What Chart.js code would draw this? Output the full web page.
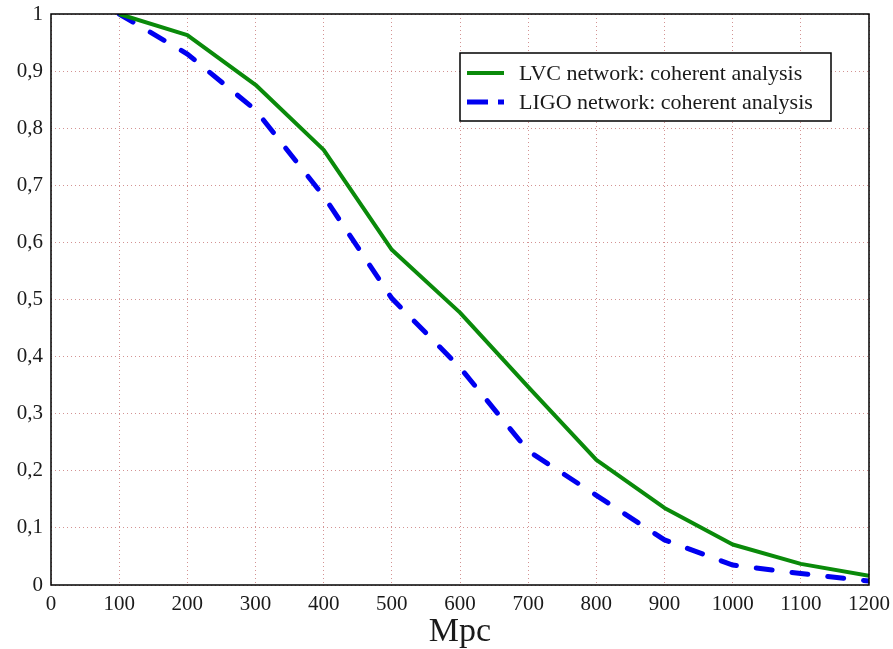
<!DOCTYPE html>
<html>
<head>
<meta charset="utf-8">
<script src="https://cdn.jsdelivr.net/npm/chart.js@4/dist/chart.umd.min.js"></script>
<style>
  html, body { margin: 0; padding: 0; background: #fff; }
  #wrap { width: 893px; height: 649px; position: relative; }
</style>
</head>
<body>
<div id="wrap"><canvas id="c"></canvas></div>
<script>
// Distance in Mpc
const distances = [100, 200, 300, 400, 500, 600, 700, 800, 900, 1000, 1100, 1200];
// Detection fraction, LVC (LIGO + Virgo) coherent analysis
const lvcFraction = [1.0, 0.963, 0.876, 0.762, 0.587, 0.477, 0.347, 0.219, 0.135, 0.071, 0.037, 0.016];
// Detection fraction, LIGO-only coherent analysis
const ligoFraction = [1.0, 0.930, 0.832, 0.681, 0.502, 0.381, 0.235, 0.157, 0.079, 0.035, 0.020, 0.007];

const seriesLabels = ['LVC network: coherent analysis', 'LIGO network: coherent analysis'];
const xTitle = 'Mpc';

const serif = "'Liberation Serif', 'DejaVu Serif', serif";
const ink = '#1a1a1a';
const gridColor = 'rgba(200, 120, 120, 0.8)';

const toPoints = ys => distances.map((x, i) => ({ x: x, y: ys[i] }));
const fmt = v => {
  const r = Math.round(v * 10) / 10;
  return String(r).replace('.', ',');
};

// Black frame around the plotting area
const framePlugin = {
  id: 'frame',
  afterDatasetsDraw(chart) {
    const { ctx, chartArea: a } = chart;
    ctx.save();
    ctx.strokeStyle = '#000';
    ctx.lineWidth = 1.5;
    ctx.strokeRect(a.left, a.top, a.right - a.left, a.bottom - a.top);
    ctx.restore();
  }
};

// Boxed legend inside the plotting area, upper right
const boxLegend = {
  id: 'boxLegend',
  afterDraw(chart) {
    const { ctx, chartArea: a } = chart;
    const left = a.right - 409, top = a.top + 39, w = 371, h = 68;
    ctx.save();
    ctx.fillStyle = '#fff';
    ctx.fillRect(left, top, w, h);
    ctx.strokeStyle = '#000';
    ctx.lineWidth = 1.5;
    ctx.strokeRect(left, top, w, h);
    ctx.font = '22px ' + serif;
    ctx.textBaseline = 'middle';
    ctx.textAlign = 'left';
    chart.data.datasets.forEach((ds, i) => {
      const y = top + 20 + i * 29;
      ctx.save();
      ctx.beginPath();
      ctx.rect(left + 7, y - 6, 37, 12);
      ctx.clip();
      ctx.strokeStyle = ds.borderColor;
      ctx.lineWidth = ds.borderWidth;
      ctx.lineCap = 'butt';
      ctx.setLineDash(ds.borderDash ? [21, 10] : []);
      ctx.beginPath();
      ctx.moveTo(left + 7, y);
      ctx.lineTo(left + 44, y);
      ctx.stroke();
      ctx.restore();
      ctx.fillStyle = ink;
      ctx.fillText(ds.label, left + 59, y + 1);
    });
    ctx.restore();
  }
};

new Chart(document.getElementById('c'), {
  type: 'line',
  data: {
    datasets: [
      {
        label: seriesLabels[0],
        data: toPoints(lvcFraction),
        borderColor: '#0a8a0a',
        borderWidth: 4,
        pointRadius: 0,
        tension: 0,
        borderJoinStyle: 'round'
      },
      {
        label: seriesLabels[1],
        data: toPoints(ligoFraction),
        borderColor: '#0000f0',
        borderWidth: 5,
        borderDash: [16, 20],
        borderCapStyle: 'round',
        pointRadius: 0,
        tension: 0
      }
    ]
  },
  options: {
    responsive: true,
    maintainAspectRatio: false,
    animation: false,
    layout: { padding: { left: 0, right: 24, top: 14, bottom: 0 } },
    plugins: {
      legend: { display: false },
      tooltip: { enabled: false }
    },
    scales: {
      x: {
        type: 'linear',
        min: 0,
        max: 1200,
        ticks: {
          stepSize: 100,
          autoSkip: false,
          maxRotation: 0,
          color: ink,
          padding: 7,
          font: { family: serif, size: 21 },
          callback: v => String(v)
        },
        grid: {
          color: gridColor,
          lineWidth: 1,
          drawTicks: false
        },
        border: { display: false, dash: [1, 3] },
        title: {
          display: true,
          text: xTitle,
          color: ink,
          font: { family: serif, size: 34 },
          padding: { top: 0, bottom: -3 }
        },
        afterFit(scale) {
          scale.height = 64;
          scale.paddingLeft = 0;
          scale.paddingRight = 0;
        }
      },
      y: {
        min: 0,
        max: 1,
        ticks: {
          stepSize: 0.1,
          color: ink,
          padding: 8,
          font: { family: serif, size: 21 },
          callback: v => fmt(v)
        },
        grid: {
          color: gridColor,
          lineWidth: 1,
          drawTicks: false
        },
        border: { display: false, dash: [1, 3] },
        afterFit(scale) {
          scale.width = 51;
          scale.paddingTop = 0;
          scale.paddingBottom = 0;
        }
      }
    }
  },
  plugins: [framePlugin, boxLegend]
});
</script>
</body>
</html>
